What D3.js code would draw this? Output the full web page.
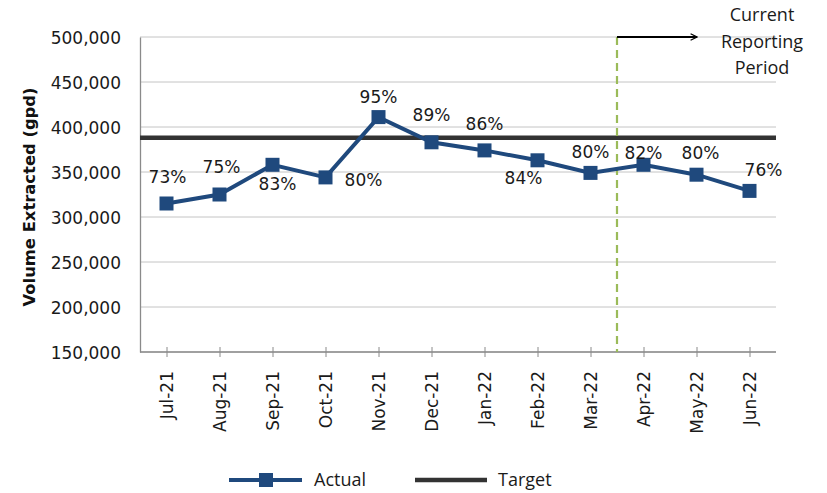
<!DOCTYPE html>
<html>
<head>
<meta charset="utf-8">
<script src="https://cdn.jsdelivr.net/npm/d3@7"></script>
<style>
  body { margin: 0; background: #fff; }
  svg { display: block; }
  .tick text { font-family: "DejaVu Sans", Verdana, sans-serif; font-size: 17px; fill: #1a1a1a; }
</style>
</head>
<body>
<svg width="827" height="493"></svg>
<script>
// chart data
var months = ["Jul-21", "Aug-21", "Sep-21", "Oct-21", "Nov-21", "Dec-21",
              "Jan-22", "Feb-22", "Mar-22", "Apr-22", "May-22", "Jun-22"];
var actual = [315000, 325000, 358000, 344000, 411000, 383000,
              374000, 363000, 349000, 358000, 347000, 329000];
var percents = ["73%", "75%", "83%", "80%", "95%", "89%",
                "86%", "84%", "80%", "82%", "80%", "76%"];
var target = 388000;
var yTicks = [150000, 200000, 250000, 300000, 350000, 400000, 450000, 500000];
var currentStart = "Apr-22";
var legendItems = ["Actual", "Target"];

// label nudges (dx, dy from marker), like Excel's hand-placed labels
var labelNudge = [[1, -27], [2, -28], [5, 19], [38, 2], [0, -20], [0, -27],
                  [0, -27], [-14, 18], [0, -21], [0, -12], [4, -22], [14, -21]];

var svg = d3.select("svg"),
    plotLeft = 140, plotRight = 776, plotTop = 37, plotBottom = 352,
    blue = "#1f497d";

var x = d3.scalePoint()
    .domain(months)
    .range([plotLeft, plotRight])
    .padding(0.5);

var y = d3.scaleLinear()
    .domain([150000, 500000])
    .range([plotBottom, plotTop]);

var fmt = d3.format(",");

// gridlines
svg.append("g")
    .selectAll("line")
    .data(yTicks)
    .join("line")
    .attr("x1", plotLeft)
    .attr("x2", plotRight)
    .attr("y1", function(d) { return y(d); })
    .attr("y2", function(d) { return y(d); })
    .attr("stroke", "#c4c4c4")
    .attr("stroke-width", 1);

// y axis
var yAxis = svg.append("g")
    .attr("transform", "translate(" + plotLeft + ",0)")
    .call(d3.axisLeft(y).tickValues(yTicks).tickFormat(fmt).tickSize(0).tickPadding(19));
yAxis.select(".domain").attr("stroke", "#8a8a8a").attr("stroke-width", 1.3);
yAxis.selectAll(".tick text").attr("dy", "0.36em");

// x axis
var xAxis = svg.append("g")
    .attr("transform", "translate(0," + plotBottom + ")")
    .call(d3.axisBottom(x).tickSizeInner(6).tickSizeOuter(0));
xAxis.select(".domain").attr("stroke", "#8a8a8a").attr("stroke-width", 1.3)
    .attr("d", "M" + plotLeft + ",0H" + plotRight);
xAxis.selectAll(".tick line").attr("stroke", "#8a8a8a").attr("y1", -5).attr("y2", 5);
xAxis.selectAll(".tick text")
    .attr("transform", "rotate(-90)")
    .attr("text-anchor", "end")
    .attr("x", -19)
    .attr("y", 0)
    .attr("dy", "0.36em");

// y axis title
svg.append("text")
    .attr("transform", "translate(35,197) rotate(-90)")
    .attr("text-anchor", "middle")
    .attr("font-family", "DejaVu Sans, Verdana, sans-serif")
    .attr("font-weight", "bold")
    .attr("font-size", 15)
    .attr("textLength", 219)
    .attr("lengthAdjust", "spacingAndGlyphs")
    .attr("fill", "#111")
    .text("Volume Extracted (gpd)");

// target line
svg.append("line")
    .attr("x1", plotLeft)
    .attr("x2", plotRight)
    .attr("y1", y(target))
    .attr("y2", y(target))
    .attr("stroke", "#333")
    .attr("stroke-width", 4.5);

// current reporting period marker
var split = (x(months[months.indexOf(currentStart) - 1]) + x(currentStart)) / 2;
svg.append("line")
    .attr("x1", split)
    .attr("x2", split)
    .attr("y1", plotTop)
    .attr("y2", plotBottom)
    .attr("stroke", "#9bbb59")
    .attr("stroke-width", 2.2)
    .attr("stroke-dasharray", "8,5");

svg.append("defs").append("marker")
    .attr("id", "arrow")
    .attr("viewBox", "0 0 10 10")
    .attr("refX", 9)
    .attr("refY", 5)
    .attr("markerWidth", 8)
    .attr("markerHeight", 8)
    .attr("markerUnits", "userSpaceOnUse")
    .attr("orient", "auto")
    .append("path")
    .attr("d", "M1,1L9,5L1,9")
    .attr("fill", "none")
    .attr("stroke", "#000")
    .attr("stroke-width", 1.6);

svg.append("line")
    .attr("x1", split)
    .attr("x2", split + 80)
    .attr("y1", plotTop)
    .attr("y2", plotTop)
    .attr("stroke", "#000")
    .attr("stroke-width", 2)
    .attr("marker-end", "url(#arrow)");

svg.append("text")
    .attr("text-anchor", "middle")
    .attr("font-family", "Open Sans, sans-serif")
    .attr("font-size", 18)
    .attr("fill", "#1a1a1a")
    .selectAll("tspan")
    .data(["Current", "Reporting", "Period"])
    .join("tspan")
    .attr("x", 762)
    .attr("y", function(d, i) { return 21 + i * 26.5; })
    .text(function(d) { return d; });

// actual series
var line = d3.line()
    .x(function(d, i) { return x(months[i]); })
    .y(function(d) { return y(d); });

svg.append("path")
    .attr("d", line(actual))
    .attr("fill", "none")
    .attr("stroke", blue)
    .attr("stroke-width", 4);

svg.append("g")
    .selectAll("rect")
    .data(actual)
    .join("rect")
    .attr("x", function(d, i) { return x(months[i]) - 7; })
    .attr("y", function(d) { return y(d) - 7; })
    .attr("width", 14)
    .attr("height", 14)
    .attr("fill", blue);

svg.append("g")
    .selectAll("text")
    .data(actual)
    .join("text")
    .attr("x", function(d, i) { return x(months[i]) + labelNudge[i][0]; })
    .attr("y", function(d, i) { return y(d) + labelNudge[i][1]; })
    .attr("dy", "0.36em")
    .attr("text-anchor", "middle")
    .attr("font-family", "DejaVu Sans, Verdana, sans-serif")
    .attr("font-size", 17)
    .attr("fill", "#1a1a1a")
    .text(function(d, i) { return percents[i]; });

// legend
var legend = svg.append("g").attr("transform", "translate(0,480)");
var lg = legend.selectAll("g")
    .data(legendItems)
    .join("g")
    .attr("transform", function(d, i) { return "translate(" + (229 + i * 186) + ",0)"; });

lg.append("line")
    .attr("x1", 0)
    .attr("x2", function(d, i) { return i === 0 ? 73 : 72; })
    .attr("stroke", function(d, i) { return i === 0 ? blue : "#333"; })
    .attr("stroke-width", function(d, i) { return i === 0 ? 4 : 4.5; });

lg.filter(function(d, i) { return i === 0; })
    .append("rect")
    .attr("x", 30)
    .attr("y", -7)
    .attr("width", 14)
    .attr("height", 14)
    .attr("fill", blue);

lg.append("text")
    .attr("x", function(d, i) { return i === 0 ? 85 : 83; })
    .attr("dy", "0.36em")
    .attr("font-family", "Open Sans, sans-serif")
    .attr("font-size", 18)
    .attr("fill", "#1a1a1a")
    .text(function(d) { return d; });
</script>
</body>
</html>
